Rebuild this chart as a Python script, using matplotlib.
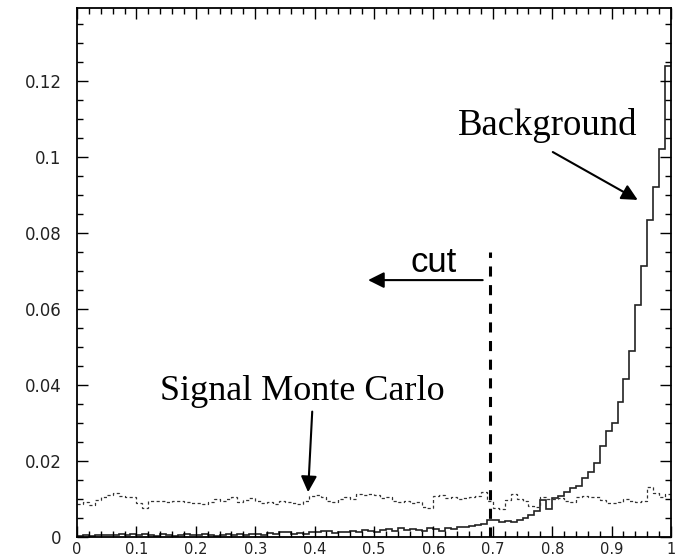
import matplotlib
matplotlib.use("Agg")
import matplotlib.pyplot as plt
import numpy as np

# histogram contents, 100 bins of width 0.01 on [0, 1]
bin_edges = np.linspace(0.0, 1.0, 101)

background = [
    0.0002, 0.0004, 0.0003, 0.0005, 0.0006, 0.0004, 0.0005, 0.0007, 0.0005, 0.0009,
    0.0006, 0.0007, 0.0004, 0.0003, 0.0008, 0.0006, 0.0003, 0.0005, 0.0007, 0.0004,
    0.0005, 0.0008, 0.0004, 0.0003, 0.0006, 0.0007, 0.0005, 0.0008, 0.0006, 0.0009,
    0.0008, 0.0006, 0.0011, 0.0007, 0.0012, 0.0013, 0.0009, 0.0011, 0.0008, 0.0014,
    0.0012, 0.0016, 0.0015, 0.0010, 0.0014, 0.0012, 0.0017, 0.0013, 0.0019, 0.0015,
    0.0012, 0.0018, 0.0020, 0.0016, 0.0024, 0.0018, 0.0021, 0.0019, 0.0016, 0.0023,
    0.0020, 0.0015, 0.0024, 0.0022, 0.0025, 0.0027, 0.0029, 0.0031, 0.0034, 0.0045,
    0.0045, 0.0040, 0.0043, 0.0040, 0.0046, 0.0050, 0.0058, 0.0068, 0.0097, 0.0074,
    0.0102, 0.0108, 0.0119, 0.0130, 0.0133, 0.0156, 0.0171, 0.0194, 0.0240, 0.0280,
    0.0299, 0.0354, 0.0415, 0.0490, 0.0611, 0.0714, 0.0834, 0.0920, 0.1020, 0.1240,
]

signal = [
    0.0088, 0.0092, 0.0085, 0.0098, 0.0104, 0.0110, 0.0115, 0.0108, 0.0106, 0.0104,
    0.0090, 0.0076, 0.0096, 0.0094, 0.0095, 0.0093, 0.0096, 0.0094, 0.0091, 0.0090,
    0.0089, 0.0088, 0.0093, 0.0101, 0.0094, 0.0099, 0.0104, 0.0092, 0.0097, 0.0103,
    0.0095, 0.0090, 0.0093, 0.0087, 0.0095, 0.0091, 0.0089, 0.0086, 0.0094, 0.0108,
    0.0111, 0.0104, 0.0096, 0.0093, 0.0101, 0.0106, 0.0099, 0.0112, 0.0110, 0.0114,
    0.0110, 0.0103, 0.0104, 0.0096, 0.0092, 0.0095, 0.0090, 0.0093, 0.0080, 0.0076,
    0.0108, 0.0111, 0.0102, 0.0105, 0.0100, 0.0103, 0.0106, 0.0108, 0.0118, 0.0094,
    0.0076, 0.0073, 0.0098, 0.0114, 0.0099, 0.0094, 0.0082, 0.0080, 0.0106, 0.0101,
    0.0099, 0.0103, 0.0094, 0.0092, 0.0105, 0.0108, 0.0106, 0.0104, 0.0097, 0.0090,
    0.0089, 0.0091, 0.0100, 0.0096, 0.0093, 0.0094, 0.0132, 0.0115, 0.0105, 0.0113,
]

cut_value = 0.695
x_ticks = [0, 0.1, 0.2, 0.3, 0.4, 0.5, 0.6, 0.7, 0.8, 0.9, 1]
x_labels = ["0", "0.1", "0.2", "0.3", "0.4", "0.5", "0.6", "0.7", "0.8", "0.9", "1"]
y_ticks = [0, 0.02, 0.04, 0.06, 0.08, 0.1, 0.12]
y_labels = ["0", "0.02", "0.04", "0.06", "0.08", "0.1", "0.12"]

W, H = 679, 559
fig = plt.figure(figsize=(W / 100, H / 100), dpi=100)
# axes box in pixels: left 77, right 671, top 8, bottom 537
ax = fig.add_axes([77 / W, (H - 537) / H, 594 / W, 529 / H])

ax.stairs(background, bin_edges, baseline=None, color="#222222", lw=1.2)
ax.stairs(signal, bin_edges, baseline=None, color="#333333", lw=0.9,
          linestyle=(0, (2.5, 2)))

ax.plot([cut_value, cut_value], [0, 0.075], color="black", lw=2.2,
        linestyle=(0, (3.3, 2.8)))

ax.set_xlim(0, 1)
ax.set_ylim(0, 0.1392)
ax.set_xticks(x_ticks)
ax.set_xticklabels(x_labels)
ax.set_yticks(y_ticks)
ax.set_yticklabels(y_labels)
ax.set_xticks(np.arange(0, 1.001, 0.02), minor=True)
ax.set_yticks(np.arange(0, 0.139, 0.005), minor=True)

ax.tick_params(which="both", direction="in", top=True, right=True, width=1)
ax.tick_params(which="major", length=8)
ax.tick_params(which="minor", length=4)
ax.tick_params(axis="x", which="major", pad=3.5, labelsize=10.5,
               labelcolor="#222222")
ax.tick_params(axis="y", which="major", pad=11, labelsize=12,
               labelcolor="#222222")
for s in ax.spines.values():
    s.set_linewidth(1.3)

# annotations
ax.text(0.641, 0.1058, "Background", family="Liberation Serif", fontsize=26.5,
        va="baseline", ha="left")
ax.annotate("", xy=(0.944, 0.0887), xytext=(0.801, 0.1013),
            arrowprops=dict(arrowstyle="-|>", mutation_scale=24, lw=1.5,
                            color="black", shrinkA=0, shrinkB=0))

ax.text(0.140, 0.0360, "Signal Monte Carlo", family="Liberation Serif",
        fontsize=26, va="baseline", ha="left")
ax.annotate("", xy=(0.389, 0.0118), xytext=(0.396, 0.0330),
            arrowprops=dict(arrowstyle="-|>", mutation_scale=24, lw=1.5,
                            color="black", shrinkA=0, shrinkB=0))

ax.text(0.562, 0.0697, "cut", family="Liberation Sans", fontsize=25,
        va="baseline", ha="left")
ax.annotate("", xy=(0.490, 0.0676), xytext=(0.683, 0.0676),
            arrowprops=dict(arrowstyle="-|>", mutation_scale=24, lw=1.5,
                            color="black", shrinkA=0, shrinkB=0))

fig.savefig("out.png", dpi=100)
